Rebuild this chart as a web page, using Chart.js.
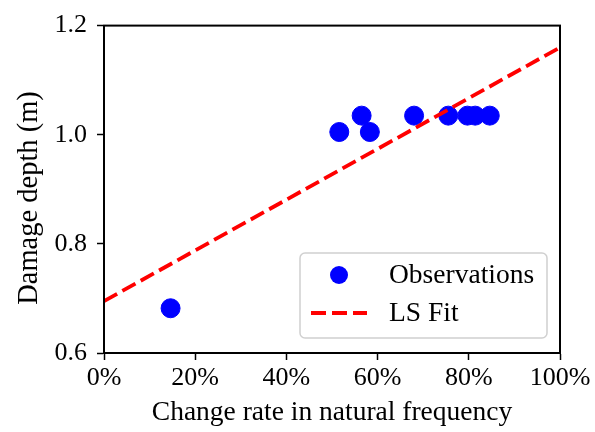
<!DOCTYPE html>
<html>
<head>
<meta charset="utf-8">
<script src="https://cdn.jsdelivr.net/npm/chart.js@4/dist/chart.umd.min.js"></script>
<style>
  html, body { margin: 0; padding: 0; background: #fff; }
  #wrap { width: 595px; height: 432px; }
</style>
</head>
<body>
<div id="wrap"><canvas id="chart" width="595" height="432"></canvas></div>
<script>
// observations (change rate %, damage depth m)
const obsX = [14.6, 51.6, 56.5, 58.3, 68.0, 75.5, 79.7, 81.4, 84.6];
const obsY = [0.682, 1.005, 1.035, 1.005, 1.035, 1.035, 1.035, 1.035, 1.035];

// least squares fit line end points
const fitX = [0, 100];
const fitY = [0.695, 1.16];

const xTicks = [0, 20, 40, 60, 80, 100];
const yTicks = [0.6, 0.8, 1.0, 1.2];

const seriesLabels = ['Observations', 'LS Fit'];
const xTitle = 'Change rate in natural frequency';
const yTitle = 'Damage depth (m)';

const font = 'Liberation Serif';

// box around the plot area + y axis title
const frame = {
  id: 'frame',
  afterDatasetsDraw(chart) {
    const a = chart.chartArea;
    const ctx = chart.ctx;
    ctx.save();
    ctx.strokeStyle = '#000';
    ctx.lineWidth = 2;
    ctx.strokeRect(a.left, a.top, a.right - a.left, a.bottom - a.top);

    ctx.translate(30, 198);
    ctx.rotate(-Math.PI / 2);
    ctx.font = '28.5px "' + font + '"';
    ctx.fillStyle = '#000';
    ctx.textAlign = 'center';
    ctx.textBaseline = 'middle';
    ctx.fillText(yTitle, 0, 0);
    ctx.restore();
  }
};

// legend inside the plot, lower right
const insideLegend = {
  id: 'insideLegend',
  afterDraw(chart) {
    const ctx = chart.ctx;
    const x = 300, y = 253, w = 247, h = 85;
    ctx.save();
    ctx.beginPath();
    ctx.roundRect(x, y, w, h, 5);
    ctx.fillStyle = 'rgba(255,255,255,0.85)';
    ctx.fill();
    ctx.strokeStyle = '#d0d0d0';
    ctx.lineWidth = 1.5;
    ctx.stroke();

    const ds = chart.data.datasets;
    ctx.font = '27.5px "' + font + '"';
    ctx.textBaseline = 'middle';

    // observations marker
    ctx.beginPath();
    ctx.arc(339, 275, 9, 0, Math.PI * 2);
    ctx.fillStyle = ds[0].backgroundColor;
    ctx.fill();
    ctx.fillStyle = '#000';
    ctx.fillText(ds[0].label, 389, 276);

    // fit line sample
    ctx.beginPath();
    ctx.setLineDash(ds[1].borderDash);
    ctx.lineWidth = ds[1].borderWidth;
    ctx.strokeStyle = ds[1].borderColor;
    ctx.moveTo(311, 313);
    ctx.lineTo(367, 313);
    ctx.stroke();
    ctx.setLineDash([]);
    ctx.fillText(ds[1].label, 389, 314);
    ctx.restore();
  }
};

new Chart(document.getElementById('chart'), {
  type: 'scatter',
  data: {
    datasets: [
      {
        label: seriesLabels[0],
        data: obsX.map((v, i) => ({ x: v, y: obsY[i] })),
        backgroundColor: '#0000ff',
        borderColor: '#0000ff',
        pointRadius: 9.5,
        pointHoverRadius: 9.5,
        order: 2
      },
      {
        label: seriesLabels[1],
        type: 'line',
        data: fitX.map((v, i) => ({ x: v, y: fitY[i] })),
        borderColor: '#ff0000',
        borderWidth: 3.8,
        borderDash: [15, 6],
        pointRadius: 0,
        fill: false,
        order: 1
      }
    ]
  },
  options: {
    responsive: false,
    animation: false,
    layout: { padding: { left: 0, right: 35, top: 23, bottom: 0 } },
    plugins: {
      legend: { display: false },
      tooltip: { enabled: false }
    },
    scales: {
      x: {
        type: 'linear',
        min: 0,
        max: 100,
        afterBuildTicks(scale) { scale.ticks = xTicks.map(v => ({ value: v })); },
        afterFit(scale) { scale.height = 79; },
        ticks: {
          color: '#000',
          padding: 3,
          maxRotation: 0,
          font: { family: font, size: 26 },
          callback: v => v + '%'
        },
        grid: { drawOnChartArea: false, drawTicks: true, tickLength: 7, tickColor: '#000', tickWidth: 1.5 },
        border: { color: '#000', width: 2 },
        title: {
          display: true,
          text: xTitle,
          color: '#000',
          font: { family: font, size: 27.5 },
          padding: { top: 0, bottom: 3 }
        }
      },
      y: {
        min: 0.6,
        max: 1.2,
        afterBuildTicks(scale) { scale.ticks = yTicks.map(v => ({ value: v })); },
        afterFit(scale) { scale.width = 104; },
        ticks: {
          color: '#000',
          padding: 10,
          font: { family: font, size: 26 },
          callback: v => v.toFixed(1)
        },
        grid: { drawOnChartArea: false, drawTicks: true, tickLength: 7, tickColor: '#000', tickWidth: 1.5 },
        border: { color: '#000', width: 2 },
        title: { display: false }
      }
    }
  },
  plugins: [frame, insideLegend]
});
</script>
</body>
</html>
